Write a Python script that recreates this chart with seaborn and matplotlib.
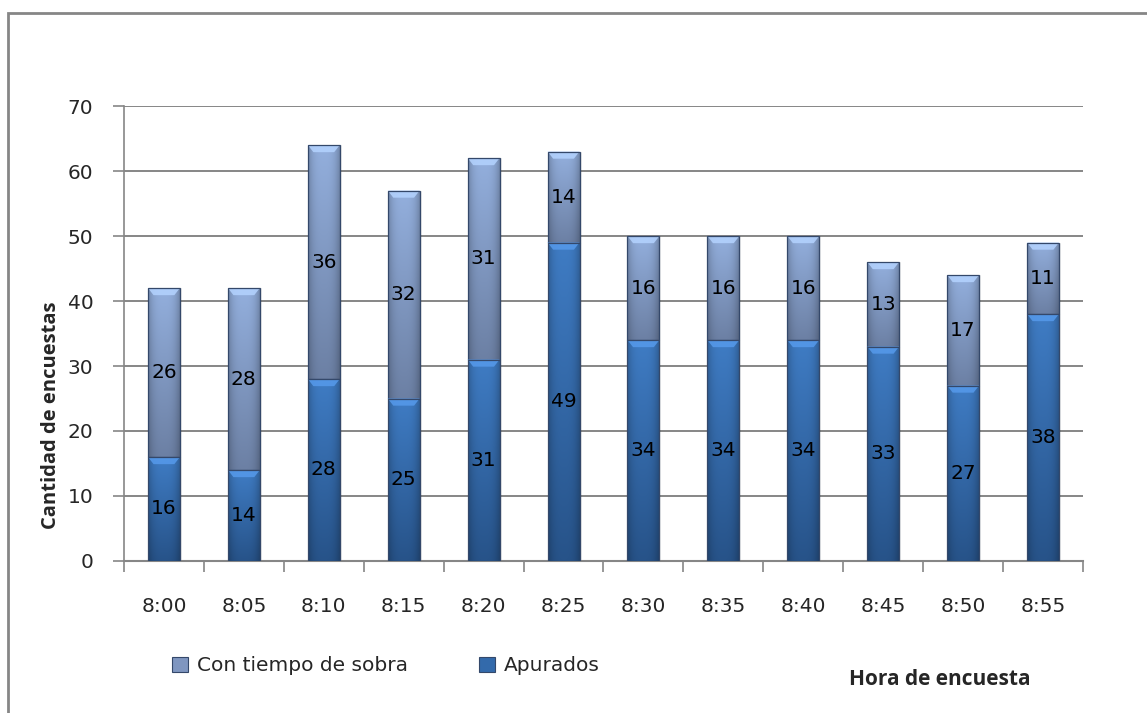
import numpy as np
import pandas as pd
import matplotlib
matplotlib.use("Agg")
import matplotlib.pyplot as plt
from matplotlib.patches import Rectangle, Polygon, Patch
from matplotlib.colors import to_rgb
import seaborn as sns

horas = ["8:00", "8:05", "8:10", "8:15", "8:20", "8:25",
         "8:30", "8:35", "8:40", "8:45", "8:50", "8:55"]
apurados = [16, 14, 28, 25, 31, 49, 34, 34, 34, 33, 27, 38]
con_tiempo = [26, 28, 36, 32, 31, 14, 16, 16, 16, 13, 17, 11]

df = pd.DataFrame({"hora": horas, "apurados": apurados, "con_tiempo": con_tiempo})
df["total"] = df["apurados"] + df["con_tiempo"]

sns.set_theme(style="white")
plt.rcParams["font.family"] = ["DejaVu Sans"]

fig = plt.figure(figsize=(11.47, 7.13), dpi=100)
ax = fig.add_axes([0.1081, 0.2132, 0.8361, 0.6381])

# stacked bars: total first, lower series drawn over it
sns.barplot(data=df, x="hora", y="total", order=horas, color="#8eaadb",
            width=0.4, ax=ax, zorder=2, edgecolor="none")
n_top = len(ax.patches)
sns.barplot(data=df, x="hora", y="apurados", order=horas, color="#3f7cc4",
            width=0.4, ax=ax, zorder=3, edgecolor="none")
top_bars = ax.patches[:n_top]
low_bars = ax.patches[n_top:]

ax.set_xlim(-0.5, len(horas) - 0.5)
ax.set_ylim(0, 70)


def shade(patch, c_top, c_bot, base, z):
    x0, y0 = patch.get_x(), base
    w = patch.get_width()
    h = patch.get_y() + patch.get_height() - base
    if h <= 0:
        return
    ct, cb = np.array(to_rgb(c_top)), np.array(to_rgb(c_bot))
    t = np.linspace(0, 1, 120)[:, None, None]
    s = np.linspace(-1, 1, 40)[None, :, None]
    img = cb + (ct - cb) * t
    img = img * (1 - 0.22 * np.abs(s) ** 3)
    img = np.clip(img, 0, 1)
    rect = Rectangle((x0, y0), w, h, transform=ax.transData)
    im = ax.imshow(img, extent=(x0, x0 + w, y0, y0 + h), origin="lower",
                   aspect="auto", zorder=z, interpolation="bilinear")
    im.set_clip_path(rect)
    # bevelled top edge
    bh, inset = 1.1, 0.07
    bev = Polygon([(x0, y0 + h), (x0 + w, y0 + h), (x0 + w - inset, y0 + h - bh),
                   (x0 + inset, y0 + h - bh)], closed=True,
                  facecolor=np.clip(ct * 1.12 + 0.06, 0, 1), edgecolor="none",
                  alpha=0.85, zorder=z + 0.1)
    ax.add_patch(bev)
    ax.add_patch(Rectangle((x0, y0), w, h, facecolor="none",
                           edgecolor="#34486a", linewidth=0.9, zorder=z + 0.2))
    # soft shadow on the right
    ax.add_patch(Rectangle((x0 + w, y0), 0.025, h, facecolor="#000000",
                           alpha=0.07, edgecolor="none", zorder=1.5))


for pt, pl in zip(top_bars, low_bars):
    base = pl.get_y() + pl.get_height()
    shade(pt, "#93afdd", "#6c80a4", base, 4)
    shade(pl, "#3f7cc4", "#275389", 0, 5)
    pt.set_visible(False)
    pl.set_visible(False)

# value labels centred in each segment
for i, (a, c) in enumerate(zip(apurados, con_tiempo)):
    ax.text(i, a / 2, str(a), ha="center", va="center", fontsize=14.5,
            color="black", zorder=10)
    ax.text(i, a + c / 2, str(c), ha="center", va="center", fontsize=14.5,
            color="black", zorder=10)

ax.set_xlim(-0.5, len(horas) - 0.5)
ax.set_ylim(0, 70)
ax.set_yticks(range(0, 71, 10))
ax.yaxis.grid(True, color="#868686", linewidth=1.4, zorder=0)
ax.set_axisbelow(True)
for side in ["top", "right"]:
    ax.spines[side].set_visible(False)
ax.spines["left"].set_color("#868686")
ax.spines["bottom"].set_color("#868686")
ax.spines["left"].set_linewidth(1.2)
ax.spines["bottom"].set_linewidth(1.5)

ax.tick_params(axis="y", which="major", length=8, width=1.2, color="#868686",
               labelsize=14.5, pad=14, left=True)
ax.tick_params(axis="x", which="major", length=0, labelsize=14.5, pad=26)
ax.set_xticks(np.arange(-0.5, len(horas), 1.0), minor=True)
ax.tick_params(axis="x", which="minor", length=8, width=1.2, color="#868686",
               bottom=True)

ax.set_xlabel("")
ax.set_ylabel("Cantidad de encuestas", fontsize=14.5, fontweight="bold",
              family=["Open Sans", "DejaVu Sans"])
ax.yaxis.set_label_coords(-0.066, 0.321)

fig.text(0.8195, 0.0463, "Hora de encuesta", ha="center", va="center",
         fontsize=15, fontweight="bold", family=["Open Sans", "DejaVu Sans"])

handles = [Patch(facecolor="#7f96c0", edgecolor="#34486a", linewidth=0.8),
           Patch(facecolor="#336aab", edgecolor="#34486a", linewidth=0.8)]
fig.legend(handles, ["Con tiempo de sobra", "Apurados"], ncol=2,
           loc="center left", bbox_to_anchor=(0.143, 0.066), frameon=False,
           fontsize=14.5, handlelength=0.8, handleheight=0.8,
           handletextpad=0.45, columnspacing=3.5, borderaxespad=0)

# chart-area frame
fig.patches.append(Rectangle((8 / 1147, -0.05), 1.1, 1 - 13 / 713 + 0.05,
                             transform=fig.transFigure, fill=False,
                             edgecolor="#868686", linewidth=2.0))

fig.savefig("out.png", dpi=100, facecolor="white")
